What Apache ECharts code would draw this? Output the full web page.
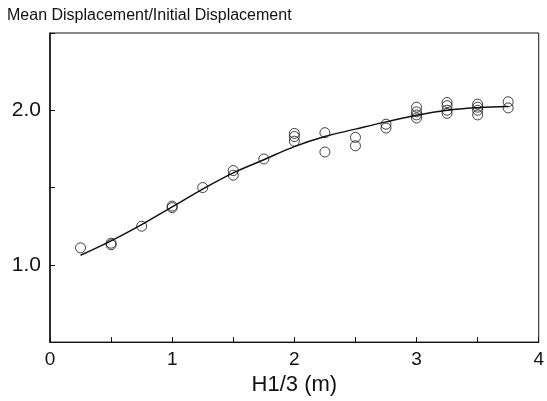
<!DOCTYPE html>
<html>
<head>
<meta charset="utf-8">
<script src="https://cdn.jsdelivr.net/npm/echarts@6/dist/echarts.min.js"></script>
<style>
html,body{margin:0;padding:0;background:#fff;}
#chart{width:547px;height:401px;}
</style>
</head>
<body>
<div id="chart"></div>
<script>
// observed points (H1/3, ratio)
var obsX = [0.25, 0.5, 0.5, 0.75, 1.0, 1.0, 1.25, 1.5, 1.5, 1.75,
            2.0, 2.0, 2.0, 2.25, 2.25, 2.5, 2.5, 2.75, 2.75,
            3.0, 3.0, 3.0, 3.0, 3.25, 3.25, 3.25, 3.25,
            3.5, 3.5, 3.5, 3.5, 3.75, 3.75];
var obsY = [1.11, 1.13, 1.14, 1.25, 1.37, 1.38, 1.50, 1.61, 1.58, 1.685,
            1.85, 1.83, 1.80, 1.855, 1.73, 1.825, 1.77, 1.91, 1.885,
            2.02, 1.99, 1.97, 1.95, 2.05, 2.03, 2.0, 1.98,
            2.04, 2.02, 2.0, 1.97, 2.055, 2.015];
// fitted curve
var fitX = [0.25, 0.5, 0.75, 1.0, 1.25, 1.5, 1.75, 2.0, 2.25, 2.5, 2.75, 3.0, 3.25, 3.5, 3.75];
var fitY = [1.062, 1.155, 1.26, 1.375, 1.49, 1.595, 1.68, 1.765, 1.83, 1.878, 1.925, 1.968, 2.0, 2.017, 2.025];
var xLabels = ['0', '1', '2', '3', '4'];
var yLabels = ['1.0', '2.0'];

function pairs(xs, ys){
	var out = [];
	for(var i=0;i<xs.length;i++){ out.push([xs[i], ys[i]]); }
	return out;
}

var font = 'Liberation Sans, Arial, sans-serif';
var option = {
	animation: false,
	title: {
		text: 'Mean Displacement/Initial Displacement',
		left: 7,
		top: 8,
		padding: 0,
		textStyle: {color:'#111', fontWeight:'normal', fontSize:16, fontFamily:font}
	},
	grid: {
		left: 50, right: 8, top: 33, bottom: 54,
		show: true, borderColor: '#111', borderWidth: 1
	},
	xAxis: {
		type: 'value', min: 0, max: 4, interval: 0.5,
		name: 'H1/3 (m)', nameLocation: 'middle', nameGap: 29,
		nameTextStyle: {color:'#111', fontSize:22, fontFamily:font},
		axisLine: {lineStyle:{color:'#111', width:1}},
		axisTick: {inside:true, length:5, lineStyle:{color:'#111'}},
		splitLine: {show:false},
		axisLabel: {
			color:'#111', fontSize:19, fontFamily:font, margin:8,
			formatter: function(v){ return xLabels.indexOf(String(v)) >= 0 ? String(v) : ''; }
		}
	},
	yAxis: {
		type: 'value', min: 0.5, max: 2.5, interval: 0.5,
		axisLine: {lineStyle:{color:'#111', width:1.5}},
		axisTick: {inside:true, length:5, lineStyle:{color:'#111'}},
		splitLine: {show:false},
		axisLabel: {
			color:'#111', fontSize:21, fontFamily:font, margin:9,
			formatter: function(v){ var s = v.toFixed(1); return yLabels.indexOf(s) >= 0 ? s : ''; }
		}
	},
	series: [
		{
			type: 'line',
			data: pairs(fitX, fitY),
			smooth: 0.4,
			showSymbol: false,
			lineStyle: {color:'#111', width:1.5}
		},
		{
			type: 'scatter',
			data: pairs(obsX, obsY),
			symbol: 'circle',
			symbolSize: 10,
			itemStyle: {color:'rgba(0,0,0,0)', borderColor:'#111', borderWidth:1}
		}
	]
};
var myChart = echarts.init(document.getElementById('chart'));
myChart.setOption(option);
</script>
</body>
</html>
